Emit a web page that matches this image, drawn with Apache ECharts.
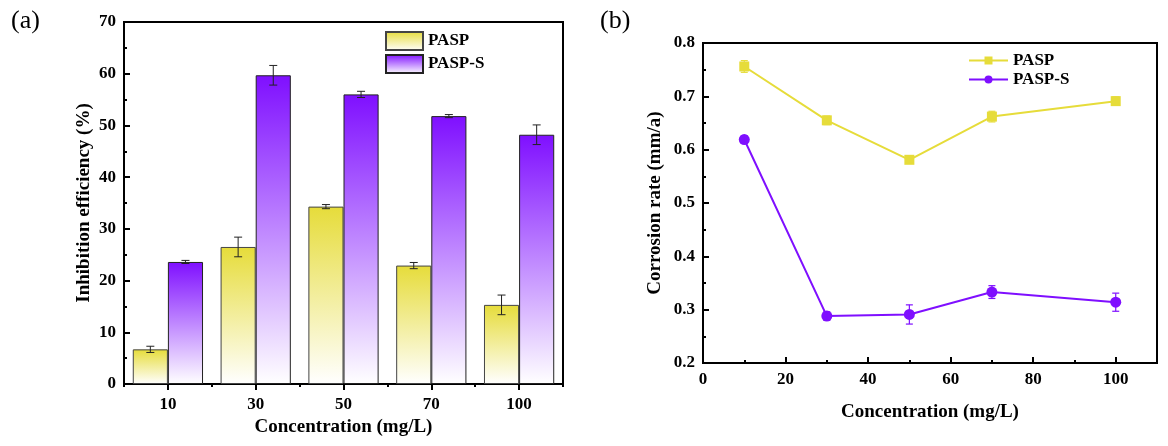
<!DOCTYPE html>
<html>
<head>
<meta charset="utf-8">
<script src="https://cdn.jsdelivr.net/npm/echarts@6/dist/echarts.min.js"></script>
<style>
  html, body { margin: 0; padding: 0; background: #fff; }
  #chart { width: 1168px; height: 446px; }
</style>
</head>
<body>
<div id="chart"></div>
<script>
// panel (a) - inhibition efficiency
const concentrations = ['10', '30', '50', '70', '100'];
const ieP = [6.7, 26.5, 34.3, 22.9, 15.3];
const ieErrP = [0.6, 1.9, 0.4, 0.6, 1.9];
const ieS = [23.6, 59.7, 56.0, 51.8, 48.2];
const ieErrS = [0.3, 1.9, 0.6, 0.3, 1.9];

// panel (b) - corrosion rate
const concValues = [10, 30, 50, 70, 100];
const crP = [0.756, 0.655, 0.581, 0.662, 0.691];
const crErrP = [0.011, 0.008, 0.006, 0.010, 0.008];
const crS = [0.619, 0.288, 0.291, 0.333, 0.314];
const crErrS = [0.007, 0.008, 0.018, 0.012, 0.017];

const FONT = 'Liberation Serif';
const YELLOW = '#e6dc3a';
const PURPLE = '#7f0fff';

const labelStyle = { fontFamily: FONT, fontWeight: 'bold', fontSize: 17, color: '#000' };
const nameStyle = { fontFamily: FONT, fontWeight: 'bold', fontSize: 19, color: '#000' };

function grad(c) {
  return new echarts.graphic.LinearGradient(0, 0, 0, 1, [
    { offset: 0, color: c },
    { offset: 1, color: '#ffffff' }
  ]);
}

// error bars on the grouped bars, offset = fraction of band width
function barErr(offset) {
  return function (params, api) {
    const idx = api.value(0), v = api.value(1), e = api.value(2);
    const band = api.size([1, 0])[0];
    const x = api.coord([idx, v])[0] + offset * band;
    const top = api.coord([idx, v + e])[1];
    const bot = api.coord([idx, v - e])[1];
    const st = { stroke: '#222', lineWidth: 1 };
    return {
      type: 'group',
      children: [
        { type: 'line', shape: { x1: x, y1: top, x2: x, y2: bot }, style: st },
        { type: 'line', shape: { x1: x - 4, y1: top, x2: x + 4, y2: top }, style: st },
        { type: 'line', shape: { x1: x - 4, y1: bot, x2: x + 4, y2: bot }, style: st }
      ]
    };
  };
}

function lineErr(color) {
  return function (params, api) {
    const x = api.coord([api.value(0), api.value(1)])[0];
    const top = api.coord([api.value(0), api.value(1) + api.value(2)])[1];
    const bot = api.coord([api.value(0), api.value(1) - api.value(2)])[1];
    const st = { stroke: color, lineWidth: 1.2 };
    return {
      type: 'group',
      children: [
        { type: 'line', shape: { x1: x, y1: top, x2: x, y2: bot }, style: st },
        { type: 'line', shape: { x1: x - 3.5, y1: top, x2: x + 3.5, y2: top }, style: st },
        { type: 'line', shape: { x1: x - 3.5, y1: bot, x2: x + 3.5, y2: bot }, style: st }
      ]
    };
  };
}

const chart = echarts.init(document.getElementById('chart'));

const option = {
  animation: false,
  backgroundColor: '#fff',
  title: [
    { text: '(a)', left: 6, top: 3, textStyle: { fontFamily: FONT, fontSize: 26, fontWeight: 'normal', color: '#000' } },
    { text: '(b)', left: 595, top: 3, textStyle: { fontFamily: FONT, fontSize: 26, fontWeight: 'normal', color: '#000' } }
  ],
  legend: [
    {
      data: ['PASP', 'PASP-S'],
      orient: 'vertical',
      left: 385, top: 31, padding: 0,
      icon: 'rect',
      itemWidth: 37, itemHeight: 18, itemGap: 3,
      textStyle: { fontFamily: FONT, fontWeight: 'bold', fontSize: 17, color: '#000' },
      selectedMode: false
    },
    {
      data: ['PASP (b)', 'PASP-S (b)'],
      orient: 'vertical',
      left: 968, top: 52, padding: 0,
      itemWidth: 39, itemHeight: 10, itemGap: 2,
      formatter: n => n.replace(' (b)', ''),
      textStyle: { fontFamily: FONT, fontWeight: 'bold', fontSize: 17, color: '#000' },
      selectedMode: false
    }
  ],
  grid: [
    { left: 124, top: 22, width: 439, height: 362, show: true, borderColor: '#000', borderWidth: 2, backgroundColor: 'transparent' },
    { left: 703, top: 43, width: 454, height: 320, show: true, borderColor: '#000', borderWidth: 2, backgroundColor: 'transparent' }
  ],
  xAxis: [
    {
      gridIndex: 0, type: 'category', data: concentrations,
      name: 'Concentration (mg/L)', nameLocation: 'middle', nameGap: 34, nameTextStyle: nameStyle,
      axisLine: { lineStyle: { color: '#000', width: 2 } },
      axisTick: { show: true, alignWithLabel: true, inside: false, length: 6, lineStyle: { width: 2 } },
      axisLabel: Object.assign({ margin: 12 }, labelStyle),
      splitLine: { show: false }
    },
    {
      gridIndex: 1, type: 'value', min: 0, max: 110, interval: 20,
      name: 'Concentration (mg/L)', nameLocation: 'middle', nameGap: 40, nameTextStyle: nameStyle,
      axisLine: { onZero: false, lineStyle: { color: '#000', width: 2 } },
      axisTick: { inside: true, length: 6, lineStyle: { width: 2 } },
      minorTick: { show: true, splitNumber: 2, length: 3, lineStyle: { color: '#000', width: 2 } },
      axisLabel: Object.assign({ margin: 8, showMaxLabel: false, formatter: v => (v > 100 ? '' : v) }, labelStyle),
      splitLine: { show: false }
    },
    {
      // small ticks at the category boundaries of panel (a)
      gridIndex: 0, type: 'category', data: concentrations, position: 'bottom',
      axisLine: { show: false },
      axisTick: { show: true, alignWithLabel: false, inside: false, length: 3, lineStyle: { color: '#000', width: 2 } },
      axisLabel: { show: false },
      splitLine: { show: false }
    }
  ],
  yAxis: [
    {
      gridIndex: 0, type: 'value', min: 0, max: 70, interval: 10,
      name: 'Inhibition efficiency (%)', nameLocation: 'middle', nameGap: 30, nameTextStyle: nameStyle,
      axisLine: { show: true, lineStyle: { color: '#000', width: 2 } },
      axisTick: { show: true, inside: true, length: 6, lineStyle: { width: 2 } },
      minorTick: { show: true, splitNumber: 2, length: 3, lineStyle: { color: '#000', width: 2 } },
      axisLabel: Object.assign({ margin: 8 }, labelStyle),
      splitLine: { show: false }
    },
    {
      gridIndex: 1, type: 'value', min: 0.2, max: 0.8, interval: 0.1,
      name: 'Corrosion rate (mm/a)', nameLocation: 'middle', nameGap: 38, nameTextStyle: nameStyle,
      axisLine: { show: true, onZero: false, lineStyle: { color: '#000', width: 2 } },
      axisTick: { show: true, inside: true, length: 6, lineStyle: { width: 2 } },
      minorTick: { show: true, splitNumber: 2, length: 3, lineStyle: { color: '#000', width: 2 } },
      axisLabel: Object.assign({ margin: 8, formatter: v => v.toFixed(1) }, labelStyle),
      splitLine: { show: false }
    }
  ],
  series: [
    {
      name: 'PASP', type: 'bar', xAxisIndex: 0, yAxisIndex: 0,
      data: ieP, barWidth: '40%', barGap: '0%',
      itemStyle: { color: grad(YELLOW), borderColor: '#444', borderWidth: 1 }
    },
    {
      name: 'PASP-S', type: 'bar', xAxisIndex: 0, yAxisIndex: 0,
      data: ieS, barWidth: '40%', barGap: '0%',
      itemStyle: { color: grad(PURPLE), borderColor: '#222', borderWidth: 1 }
    },
    {
      type: 'custom', xAxisIndex: 0, yAxisIndex: 0, z: 10,
      renderItem: barErr(-0.2),
      encode: { x: 0, y: 1 },
      data: ieP.map((v, i) => [i, v, ieErrP[i]])
    },
    {
      type: 'custom', xAxisIndex: 0, yAxisIndex: 0, z: 10,
      renderItem: barErr(0.2),
      encode: { x: 0, y: 1 },
      data: ieS.map((v, i) => [i, v, ieErrS[i]])
    },
    {
      name: 'PASP (b)', type: 'line', xAxisIndex: 1, yAxisIndex: 1,
      data: concValues.map((c, i) => [c, crP[i]]),
      symbol: 'rect', symbolSize: 10,
      lineStyle: { color: YELLOW, width: 2 },
      itemStyle: { color: YELLOW }
    },
    {
      name: 'PASP-S (b)', type: 'line', xAxisIndex: 1, yAxisIndex: 1,
      data: concValues.map((c, i) => [c, crS[i]]),
      symbol: 'circle', symbolSize: 11,
      lineStyle: { color: PURPLE, width: 2 },
      itemStyle: { color: PURPLE }
    },
    {
      type: 'custom', xAxisIndex: 1, yAxisIndex: 1, z: 10,
      renderItem: lineErr(YELLOW),
      encode: { x: 0, y: 1 },
      data: concValues.map((c, i) => [c, crP[i], crErrP[i]])
    },
    {
      type: 'custom', xAxisIndex: 1, yAxisIndex: 1, z: 10,
      renderItem: lineErr(PURPLE),
      encode: { x: 0, y: 1 },
      data: concValues.map((c, i) => [c, crS[i], crErrS[i]])
    }
  ]
};

chart.setOption(option);
</script>
</body>
</html>
